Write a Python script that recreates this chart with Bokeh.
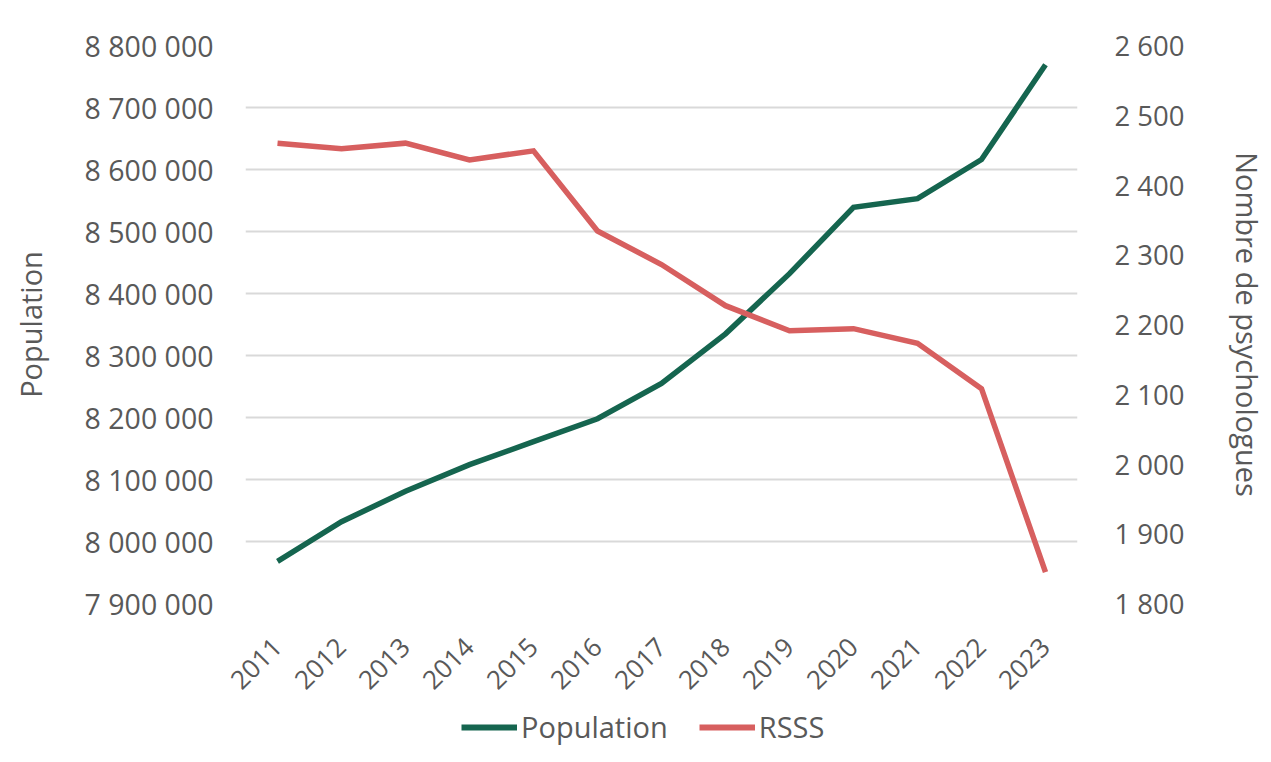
from bokeh.plotting import figure
from bokeh.models import Range1d, LinearAxis, FixedTicker, Legend, LegendItem, ColumnDataSource
from bokeh.layouts import column
from bokeh.embed import file_html
from bokeh.resources import INLINE
import math

years = ["2011", "2012", "2013", "2014", "2015", "2016", "2017", "2018", "2019", "2020", "2021", "2022", "2023"]
population = [7968000, 8032000, 8081000, 8124000, 8161000, 8198000, 8255000, 8335000, 8432000, 8539000, 8553000, 8616000, 8769000]
rsss = [2460, 2452, 2460, 2436, 2449, 2334, 2286, 2227, 2191, 2194, 2173, 2108, 1845]

left_ticks = [7900000, 8000000, 8100000, 8200000, 8300000, 8400000, 8500000, 8600000, 8700000, 8800000]
left_labels = ["7 900 000", "8 000 000", "8 100 000", "8 200 000", "8 300 000", "8 400 000", "8 500 000", "8 600 000", "8 700 000", "8 800 000"]
right_ticks = [1800, 1900, 2000, 2100, 2200, 2300, 2400, 2500, 2600]
right_labels = ["1 800", "1 900", "2 000", "2 100", "2 200", "2 300", "2 400", "2 500", "2 600"]
series_names = ["Population", "RSSS"]

FONT = "Open Sans"
GREY = "#595959"
GREEN = "#15654f"
RED = "#d75f5f"

src = ColumnDataSource(dict(year=years, pop=population, rsss=rsss))

p = figure(width=1271, height=703, x_range=years,
           y_range=Range1d(7900000, 8800000),
           output_backend="svg", toolbar_location=None,
           min_border_left=245, min_border_right=194, min_border_top=45, min_border_bottom=100)
p.extra_y_ranges = {"right": Range1d(1800, 2600)}

p.outline_line_color = None
p.background_fill_color = "white"
p.border_fill_color = "white"

# left axis
ax = p.yaxis[0]
ax.ticker = FixedTicker(ticks=left_ticks)
ax.major_label_overrides = {t: l for t, l in zip(left_ticks, left_labels)}
ax.axis_label = "Population"
ax.axis_line_color = None
ax.major_tick_line_color = None
ax.minor_tick_line_color = None
ax.major_label_text_font = FONT
ax.major_label_text_font_size = "28.5px"
ax.major_label_text_color = GREY
ax.axis_label_text_font = FONT
ax.axis_label_text_font_size = "29px"
ax.axis_label_text_font_style = "normal"
ax.axis_label_text_color = GREY
ax.major_label_standoff = 26
ax.axis_label_standoff = 32

# right axis
rax = LinearAxis(y_range_name="right", ticker=FixedTicker(ticks=right_ticks))
rax.major_label_overrides = {t: l for t, l in zip(right_ticks, right_labels)}
rax.axis_label = "Nombre de psychologues"
rax.axis_line_color = None
rax.major_tick_line_color = None
rax.minor_tick_line_color = None
rax.major_label_text_font = FONT
rax.major_label_text_font_size = "27.5px"
rax.major_label_text_color = GREY
rax.axis_label_text_font = FONT
rax.axis_label_text_font_size = "29px"
rax.axis_label_text_font_style = "normal"
rax.axis_label_text_color = GREY
rax.major_label_standoff = 31
rax.axis_label_standoff = 40
p.add_layout(rax, "right")

# x axis
xa = p.xaxis[0]
xa.axis_line_color = None
xa.major_tick_line_color = None
xa.minor_tick_line_color = None
xa.major_label_orientation = math.pi / 4
xa.major_label_text_font = FONT
xa.major_label_text_font_size = "26px"
xa.major_label_text_color = GREY
xa.major_label_standoff = 33

p.xgrid.grid_line_color = None
p.ygrid.grid_line_color = "#d9d9d9"
p.ygrid.grid_line_width = 2
p.ygrid.ticker = FixedTicker(ticks=left_ticks)

p.line("year", "pop", source=src, line_color=GREEN, line_width=5.5, line_join="miter")
p.line("year", "rsss", source=src, y_range_name="right", line_color=RED, line_width=5.5, line_join="miter")

# legend strip below the chart
lg = figure(width=1271, height=59, x_range=Range1d(0, 1), y_range=Range1d(0, 1),
            output_backend="svg", toolbar_location=None,
            min_border=0, min_border_left=0, min_border_right=0, min_border_top=0, min_border_bottom=0)
lg.axis.visible = False
lg.grid.visible = False
lg.outline_line_color = None
lg.border_fill_color = "white"
hidden = ColumnDataSource(dict(x=[-10, -9], y=[-10, -9]))
l1 = lg.line("x", "y", source=hidden, line_color=GREEN, line_width=6)
l2 = lg.line("x", "y", source=hidden, line_color=RED, line_width=6)

legend = Legend(items=[LegendItem(label=series_names[0], renderers=[l1]),
                       LegendItem(label=series_names[1], renderers=[l2])],
                orientation="horizontal", location=(216, 16))
legend.label_text_font = FONT
legend.label_text_font_size = "29px"
legend.label_text_color = GREY
legend.glyph_width = 56
legend.label_standoff = 4
legend.spacing = 31
legend.border_line_color = None
legend.background_fill_alpha = 0
legend.margin = 0
legend.padding = 0
lg.add_layout(legend, "center")

layout = column(p, lg, spacing=0)
open("out.html", "w").write(file_html(layout, INLINE))
